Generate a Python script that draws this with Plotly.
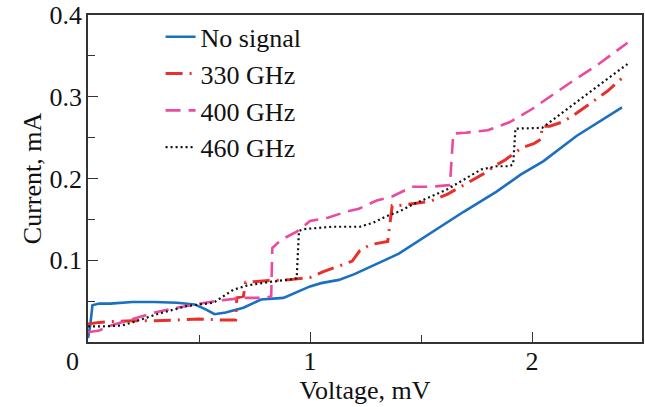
import plotly.graph_objects as go

# ---- data ----
v_nosig = [0, 0.01, 0.02, 0.05, 0.1, 0.2, 0.3, 0.4, 0.48, 0.53, 0.57, 0.62, 0.7, 0.78, 0.88,
           0.95, 1.0, 1.05, 1.13, 1.2, 1.26, 1.32, 1.4, 1.54, 1.69, 1.84, 1.95, 2.05, 2.2, 2.405]
i_nosig = [0.005, 0.02, 0.045, 0.047, 0.047, 0.049, 0.049, 0.048, 0.046, 0.040, 0.034, 0.036,
           0.042, 0.052, 0.054, 0.062, 0.068, 0.072, 0.076, 0.083, 0.091, 0.098, 0.108, 0.133,
           0.159, 0.184, 0.205, 0.221, 0.252, 0.287]

v_330 = [0, 0.05, 0.1, 0.2, 0.3, 0.4, 0.5, 0.6, 0.665, 0.67, 0.7, 0.71, 0.8, 0.9, 1.0, 1.06,
         1.11, 1.19, 1.225, 1.27, 1.35, 1.37, 1.40, 1.54, 1.62, 1.66, 1.71, 1.79, 1.83, 1.88,
         1.95, 2.01, 2.04, 2.045, 2.08, 2.135, 2.18, 2.25, 2.30, 2.34, 2.41]
i_330 = [0.022, 0.024, 0.025, 0.026, 0.026, 0.027, 0.028, 0.027, 0.027, 0.054, 0.056, 0.073,
         0.075, 0.076, 0.079, 0.086, 0.091, 0.099, 0.112, 0.119, 0.123, 0.167, 0.167, 0.172,
         0.181, 0.187, 0.195, 0.207, 0.215, 0.223, 0.237, 0.243, 0.248, 0.264, 0.264, 0.269,
         0.276, 0.290, 0.299, 0.307, 0.324]

v_400 = [0, 0.05, 0.1, 0.2, 0.3, 0.4, 0.5, 0.55, 0.6, 0.7, 0.8, 0.825, 0.83, 0.87, 0.94, 1.0,
         1.08, 1.17, 1.22, 1.30, 1.37, 1.42, 1.46, 1.55, 1.63, 1.645, 1.70, 1.80, 1.90, 2.0,
         2.16, 2.3, 2.43]
i_400 = [0.012, 0.014, 0.020, 0.028, 0.036, 0.042, 0.047, 0.049, 0.051, 0.054, 0.054, 0.056,
         0.115, 0.125, 0.135, 0.148, 0.152, 0.160, 0.163, 0.173, 0.178, 0.185, 0.190, 0.190,
         0.192, 0.255, 0.256, 0.259, 0.269, 0.285, 0.315, 0.340, 0.366]

v_460 = [0, 0.05, 0.15, 0.2, 0.31, 0.445, 0.565, 0.595, 0.655, 0.715, 0.805, 0.925, 0.94,
         0.95, 0.97, 1.1, 1.225, 1.285, 1.345, 1.405, 1.46, 1.62, 1.77, 1.84, 1.90, 1.915,
         1.925, 2.045, 2.2, 2.32, 2.43]
i_460 = [0.019, 0.019, 0.020, 0.024, 0.034, 0.044, 0.048, 0.053, 0.064, 0.069, 0.073, 0.077,
         0.078, 0.136, 0.138, 0.141, 0.141, 0.146, 0.154, 0.160, 0.168, 0.187, 0.211, 0.215,
         0.215, 0.218, 0.261, 0.262, 0.294, 0.318, 0.340]

x_ticks = [1, 2]
x_ticktext = ["1", "2"]
y_ticks = [0.1, 0.2, 0.3, 0.4]
y_ticktext = ["0.1", "0.2", "0.3", "0.4"]

FONT = "Liberation Serif"
FS = 26
TXT = dict(family=FONT, size=FS, color="#111")

fig = go.Figure()
fig.add_trace(go.Scatter(x=v_nosig, y=i_nosig, mode="lines", name="No signal",
                         line=dict(color="#1a6fc0", width=2.6)))
fig.add_trace(go.Scatter(x=v_330, y=i_330, mode="lines", name="330 GHz",
                         line=dict(color="#e8302a", width=3, dash="17px,7px,2px,7px")))
fig.add_trace(go.Scatter(x=v_400, y=i_400, mode="lines", name="400 GHz",
                         line=dict(color="#ea4aa0", width=2.6, dash="15px,8px")))
fig.add_trace(go.Scatter(x=v_460, y=i_460, mode="lines", name="460 GHz",
                         line=dict(color="#111111", width=2.2, dash="2px,3px")))

axis_common = dict(showgrid=False, zeroline=False, showline=True, linecolor="#333",
                   linewidth=1.5, mirror=True, ticks="inside", ticklen=10, tickwidth=1.3,
                   tickcolor="#333", tickfont=TXT, automargin=False)

fig.update_xaxes(range=[0, 2.495], tickvals=x_ticks, ticktext=x_ticktext,
                 minor=dict(tickvals=[0.5, 1.5], ticks="inside", ticklen=7, tickwidth=1.3,
                            tickcolor="#333"),
                 title=dict(text="Voltage, mV", font=TXT, standoff=0),
                 ticklabelstandoff=-5,
                 **axis_common)
fig.update_yaxes(range=[0, 0.4], tickvals=y_ticks, ticktext=y_ticktext,
                 minor=dict(tickvals=[0.05, 0.15, 0.25, 0.35], ticks="inside", ticklen=7,
                            tickwidth=1.3, tickcolor="#333"),
                 title=dict(text="Current, mA", font=TXT, standoff=0),
                 ticklabelstandoff=-1,
                 **axis_common)

fig.add_annotation(text="0", x=0, y=0, xref="paper", yref="paper", showarrow=False,
                   xanchor="center", yanchor="middle", xshift=-16, yshift=-19, font=TXT)

fig.update_layout(
    width=645, height=407,
    margin=dict(l=88, r=3, t=15, b=65),
    plot_bgcolor="white", paper_bgcolor="white",
    font=TXT,
    legend=dict(x=0.131, y=1.005, xanchor="left", yanchor="top", bgcolor="rgba(0,0,0,0)",
                font=TXT, tracegroupgap=0),
)

fig.write_html("out.html", config={"displayModeBar": False},
               post_script="document.body.style.margin='0';")
